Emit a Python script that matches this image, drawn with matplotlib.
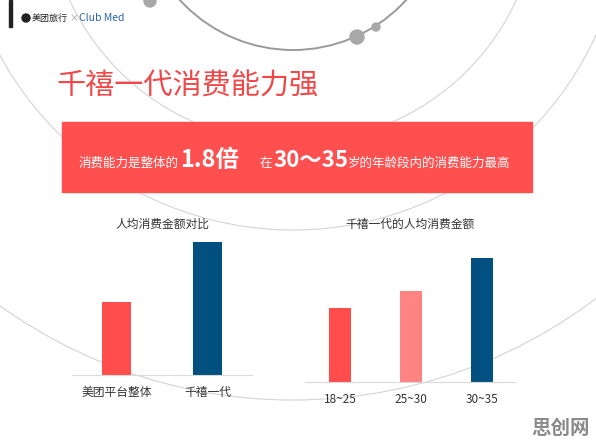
import numpy as np
import matplotlib
matplotlib.use('Agg')
import matplotlib.pyplot as plt
from matplotlib.patches import Circle, Rectangle

plt.rcParams['font.family'] = ['Noto Sans CJK SC', 'DejaVu Sans']

# data
left_title = '人均消费金额对比'
left_cats = ['美团平台整体', '千禧一代']
left_vals = [100, 182]
left_colors = ['#ff4c4c', '#02507f']

right_title = '千禧一代的人均消费金额'
right_cats = ['18~25', '25~30', '30~35']
right_vals = [100, 123, 168]
right_colors = ['#ff4c4c', '#ff8383', '#02507f']

W, H = 596, 445
fig = plt.figure(figsize=(W / 100, H / 100), dpi=100)

# background layer in pixel coordinates
bg = fig.add_axes([0, 0, 1, 1])
bg.set_xlim(0, W)
bg.set_ylim(H, 0)
bg.axis('off')

cx, cy = 293, -103
bg.add_patch(Circle((cx, cy), 153, fill=False, ec='#9a9a9a', lw=1.4))
for r in [246, 333, 503]:
    bg.add_patch(Circle((cx, cy), r, fill=False, ec='#d4d4d4', lw=0.8))
bg.add_patch(Circle((357, 37), 7, color='#a8a8a8'))
bg.add_patch(Circle((376, 27), 4, color='#a8a8a8'))
bg.add_patch(Circle((150, 1), 6, color='#a8a8a8'))

# logo
bg.add_patch(Rectangle((9, 0), 2.5, 27, color='#222222'))
bg.add_patch(Circle((26, 18), 4, color='#222222'))
bg.text(32, 18, '美团旅行', fontsize=6.5, color='#222222', va='center')
bg.text(69, 18, '×', fontsize=6.5, color='#999999', va='center')
bg.text(79, 18, 'Club Med', fontsize=7.5, color='#2a64a8', va='center')

# title
bg.text(57, 87, '千禧一代消费能力强', fontsize=21, color='#f04848', va='center')

# banner
bg.add_patch(Rectangle((62, 122), 470, 70, color='#ff4f4f', zorder=2))
by = 167
bg.text(79, by, '消费能力是整体的', fontsize=9, color='white', va='baseline', zorder=3)
bg.text(180, by, '1.8倍', fontsize=17, color='white', fontweight='bold', va='baseline', zorder=3)
bg.text(260, by, '在', fontsize=9, color='white', va='baseline', zorder=3)
bg.text(273, by, '30～35', fontsize=16, color='white', fontweight='bold', va='baseline', zorder=3)
bg.text(348, by, '岁的年龄段内的消费能力最高', fontsize=9, color='white', va='baseline', zorder=3)

# watermark
bg.text(590, 428, '思创网', fontsize=14, color='#8a8a8a', fontweight='bold', ha='right', va='center')


def px_axes(x0, x1, ytop, ybot):
    return fig.add_axes([x0 / W, 1 - ybot / H, (x1 - x0) / W, (ybot - ytop) / H])


def bar_panel(ax, cats, vals, colors, width, xlim, ylim_top, title, title_y):
    x = np.arange(len(cats))
    ax.bar(x, vals, width=width, color=colors)
    ax.set_xlim(*xlim)
    ax.set_ylim(0, ylim_top)
    ax.set_facecolor('none')
    for s in ['top', 'left', 'right']:
        ax.spines[s].set_visible(False)
    ax.spines['bottom'].set_color('#d9d9d9')
    ax.spines['bottom'].set_linewidth(0.8)
    ax.set_yticks([])
    ax.set_xticks(x)
    ax.set_xticklabels(cats, fontsize=8.5, color='#333333')
    ax.tick_params(axis='x', length=0, pad=8)
    bb = ax.get_position()
    fig.text((bb.x0 + bb.x1) / 2, 1 - title_y / H, title, fontsize=8.5,
             color='#333333', ha='center', va='center')


ax1 = px_axes(72, 252, 230, 375)
bar_panel(ax1, left_cats, left_vals, left_colors, 0.32, (-0.49, 1.49),
          100 * 145 / 73, left_title, 224)

ax2 = px_axes(305, 515, 232, 382)
bar_panel(ax2, right_cats, right_vals, right_colors, 0.31, (-0.495, 2.47),
          100 * 150 / 74, right_title, 224)

fig.savefig('out.png', dpi=100)
